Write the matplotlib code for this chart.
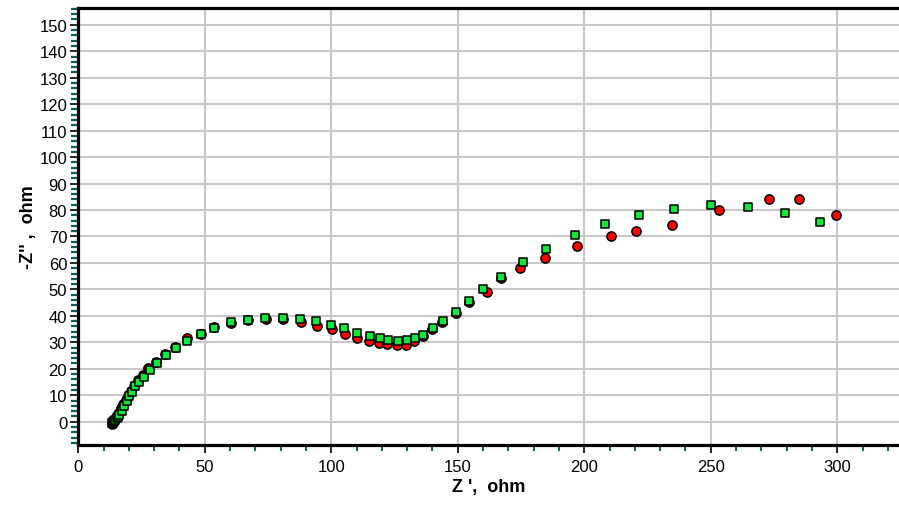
import matplotlib
matplotlib.use("Agg")
import matplotlib.pyplot as plt
from matplotlib.ticker import MultipleLocator

plt.rcParams['font.family'] = ['Liberation Sans', 'DejaVu Sans']

# Series 1: red circles (Z', -Z'')
red_x = [13.4, 13.6, 13.9, 14.2, 14.6, 15.1, 15.7, 16.3, 17.0, 17.8, 18.7, 19.7,
         20.8, 22.1, 23.6, 25.5, 27.4, 30.9, 34.4, 38.4, 42.8, 48.4, 53.8, 60.4,
         67.0, 74.0, 80.8, 87.9, 94.2, 100.2, 105.5, 110.0, 114.9, 119.0, 122.1,
         126.1, 129.5, 132.7, 136.1, 140.0, 143.9, 149.2, 154.4, 161.4, 167.1,
         174.6, 184.6, 197.2, 210.5, 220.6, 234.5, 253.1, 273.1, 285.0, 299.6]
red_y = [-1.0, -0.6, -0.1, 0.5, 1.2, 2.0, 3.0, 4.0, 5.2, 6.6, 8.1, 9.8,
         11.5, 13.4, 15.6, 17.8, 20.2, 22.6, 25.5, 28.1, 31.5, 33.3, 35.6, 37.4,
         38.4, 38.9, 38.8, 37.6, 36.1, 34.9, 33.0, 31.5, 30.5, 29.7, 29.2,
         29.0, 29.1, 30.4, 32.5, 35.1, 37.8, 41.2, 45.3, 49.1, 54.2,
         58.0, 61.7, 66.3, 70.1, 72.1, 74.5, 80.1, 84.0, 84.0, 78.2]

# Series 2: green squares (Z', -Z'')
grn_x = [13.4, 13.8, 14.2, 14.7, 15.2, 15.7, 16.2, 17.2, 18.1, 19.1, 20.0, 21.2,
         22.5, 23.9, 26.0, 28.5, 31.1, 34.5, 38.5, 43.1, 48.5, 53.8, 60.4, 67.2,
         73.8, 80.9, 87.7, 94.0, 99.8, 105.1, 110.3, 115.3, 119.3, 122.5, 126.4,
         129.8, 133.1, 136.2, 140.1, 144.0, 149.4, 154.4, 160.1, 167.1, 175.6,
         185.0, 196.2, 208.2, 221.5, 235.6, 250.2, 264.8, 279.5, 293.2]
grn_y = [-0.6, 0.0, 0.2, 0.8, 1.3, 1.9, 2.6, 4.2, 6.0, 7.9, 9.8, 11.3,
         13.4, 15.1, 17.0, 19.5, 22.3, 25.3, 27.9, 30.5, 33.1, 35.4, 37.6, 38.4,
         39.2, 39.2, 38.7, 38.1, 36.7, 35.5, 33.5, 32.3, 31.6, 31.0, 30.4,
         31.0, 31.6, 32.8, 35.3, 37.9, 41.3, 45.5, 50.2, 54.6, 60.2,
         65.3, 70.4, 74.8, 78.0, 80.5, 81.8, 81.1, 78.8, 75.5]

x_ticks = [0, 50, 100, 150, 200, 250, 300]
y_ticks = list(range(0, 151, 10))

fig = plt.figure(figsize=(8.99, 5.06), dpi=100)
ax = fig.add_axes([0.0871, 0.1186, 0.9129, 0.8634])

ax.scatter(red_x, red_y, s=44, marker='o', c='#FF0000', edgecolors='black',
           linewidths=1.1, zorder=3)
ax.scatter(grn_x, grn_y, s=34, marker='s', c='#12E83C', edgecolors='black',
           linewidths=1.1, zorder=4)

ax.set_xlim(0, 324.4)
ax.set_ylim(-8.8, 156.3)
ax.set_xticks(x_ticks)
ax.set_yticks(y_ticks)
ax.xaxis.set_minor_locator(MultipleLocator(10))
ax.yaxis.set_minor_locator(MultipleLocator(2))

ax.grid(True, which='major', color='#C8C8C8', linewidth=1.5, zorder=0)
ax.set_axisbelow(True)

for s in ['left', 'bottom', 'top']:
    ax.spines[s].set_linewidth(2.3)
    ax.spines[s].set_color('black')
ax.spines['right'].set_visible(False)

ax.tick_params(which='major', direction='out', length=6, width=1.2,
               color='black', labelsize=12, labelcolor='black', pad=2)
ax.tick_params(axis='y', which='minor', direction='out', length=5, width=1.6,
               color='#0B5E5E')
ax.tick_params(axis='x', which='minor', direction='out', length=4, width=1.4,
               color='#0B5E5E')
ax.tick_params(axis='x', which='major', pad=4)

ax.set_xlabel("Z ',  ohm", fontsize=13, fontweight='bold', labelpad=3)
ax.set_ylabel("-Z'' ,  ohm", fontsize=13, fontweight='bold', labelpad=2)

fig.savefig('out.png', dpi=100)
